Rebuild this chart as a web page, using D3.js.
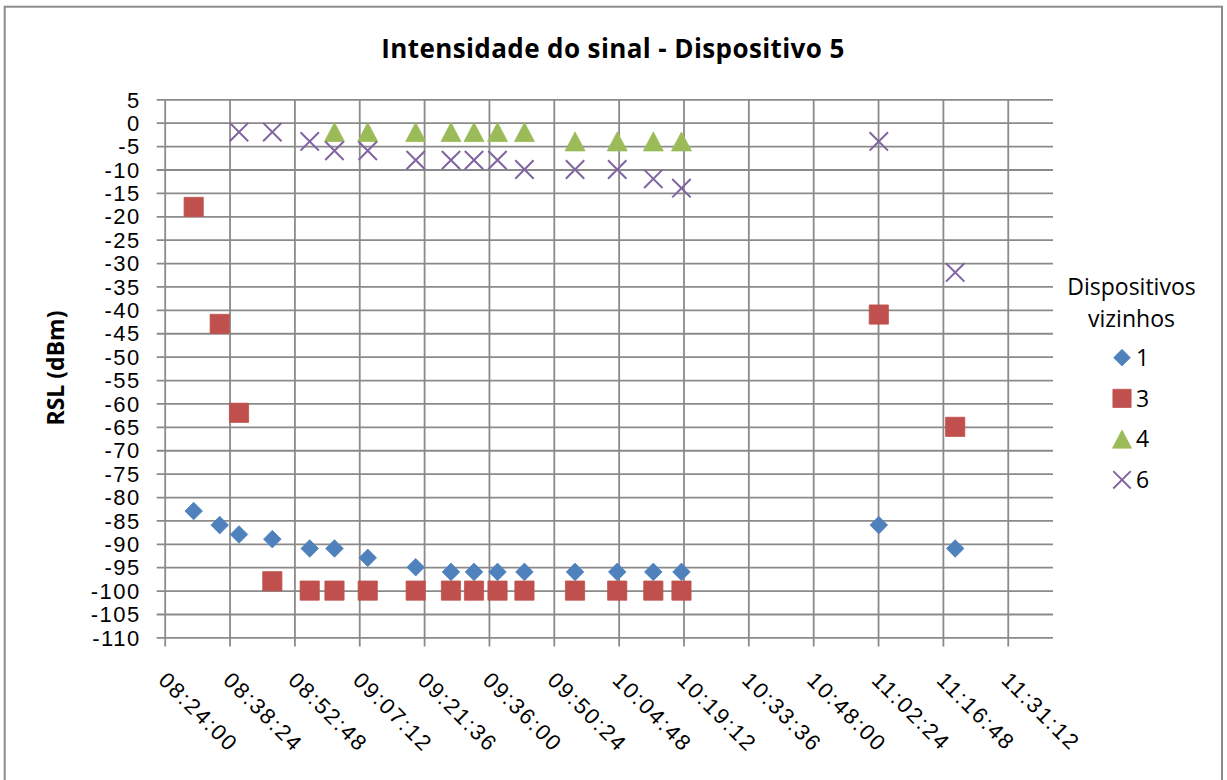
<!DOCTYPE html>
<html>
<head>
<meta charset="utf-8">
<script src="https://cdn.jsdelivr.net/npm/d3@7/dist/d3.min.js"></script>
<style>
  html, body { margin: 0; padding: 0; background: #fff; }
  svg { display: block; font-family: "Open Sans", "Noto Sans", sans-serif; }
</style>
</head>
<body>
<svg id="chart" width="1227" height="780"></svg>
<script>
// Measurement times (hh:mm:ss)
const times = [
  "08:30:26", "08:36:13", "08:40:30", "08:47:54", "08:56:12", "09:01:42",
  "09:09:05", "09:19:44", "09:27:34", "09:32:41", "09:37:54", "09:43:53",
  "09:55:07", "10:04:29", "10:12:30", "10:18:45", "11:02:34", "11:19:32"
];

// RSL (dBm) per neighbouring device; null = not detected at that time
const dev1 = [-83, -86, -88, -89, -91, -91, -93, -95, -96, -96, -96, -96, -96, -96, -96, -96, -86, -91];
const dev3 = [-18, -43, -62, -98, -100, -100, -100, -100, -100, -100, -100, -100, -100, -100, -100, -100, -41, -65];
const dev4 = [null, null, null, null, null, -2, -2, -2, -2, -2, -2, -2, -4, -4, -4, -4, null, null];
const dev6 = [null, null, -2, -2, -4, -6, -6, -8, -8, -8, -8, -10, -10, -10, -12, -14, -4, -32];

const seriesNames = ["1", "3", "4", "6"];
const seriesColors = ["#4F81BD", "#C0504D", "#9BBB59", "#8064A2"];
const seriesShapes = ["diamond", "square", "triangle", "cross"];

// Axis ticks
const xTickLabels = [
  "08:24:00", "08:38:24", "08:52:48", "09:07:12", "09:21:36", "09:36:00", "09:50:24",
  "10:04:48", "10:19:12", "10:33:36", "10:48:00", "11:02:24", "11:16:48", "11:31:12"
];
const xAxisEnd = "11:41:15";
const yTicks = [5, 0, -5, -10, -15, -20, -25, -30, -35, -40, -45, -50, -55, -60,
  -65, -70, -75, -80, -85, -90, -95, -100, -105, -110];

const titleText = "Intensidade do sinal - Dispositivo 5";
const yTitleText = "RSL (dBm)";
const legendTitle = ["Dispositivos", "vizinhos"];

const toSec = s => { const p = s.split(":").map(Number); return p[0] * 3600 + p[1] * 60 + p[2]; };

const svg = d3.select("#chart");
const plot = { left: 164.7, right: 1053, top: 99.3, bottom: 637.4 };
const gridColor = "#8a8a8a";

// Outer chart frame
svg.append("rect")
  .attr("x", 4.7).attr("y", 6.7)
  .attr("width", 1222 - 4.7).attr("height", 800)
  .attr("fill", "#fff").attr("stroke", "#8c8c8c").attr("stroke-width", 2);

const x = d3.scaleLinear()
  .domain([toSec(xTickLabels[0]), toSec(xAxisEnd)])
  .range([plot.left, plot.right]);
const y = d3.scaleLinear()
  .domain([-110, 5])
  .range([plot.bottom, plot.top]);

// Horizontal gridlines + y axis ticks/labels
const yAxis = d3.axisLeft(y)
  .tickValues(yTicks)
  .tickSize(-(plot.right - plot.left))
  .tickPadding(0)
  .tickFormat(d => String(d));
const gy = svg.append("g")
  .attr("transform", `translate(${plot.left},0)`)
  .call(yAxis);
gy.select(".domain").remove();
gy.selectAll(".tick line")
  .attr("x1", -8)
  .attr("stroke", gridColor).attr("stroke-width", 1.8);
gy.selectAll(".tick text")
  .attr("x", -24)
  .attr("dy", "0.35em")
  .attr("fill", "#000")
  .style("font-size", "22px")
  .style("letter-spacing", "1.5px");

// Vertical gridlines + x axis ticks/labels
const xAxis = d3.axisBottom(x)
  .tickValues(xTickLabels.map(toSec))
  .tickSize(0)
  .tickFormat((d, i) => xTickLabels[i]);
const gx = svg.append("g")
  .attr("transform", `translate(0,${plot.bottom})`)
  .call(xAxis);
gx.select(".domain").remove();
gx.selectAll(".tick line")
  .attr("y1", -(plot.bottom - plot.top))
  .attr("y2", 9)
  .attr("stroke", gridColor).attr("stroke-width", 1.8);
gx.selectAll(".tick text")
  .attr("x", 0).attr("y", 0).attr("dy", 0)
  .attr("text-anchor", "start")
  .attr("transform", "translate(-8,44) rotate(45)")
  .attr("fill", "#000")
  .style("font-size", "22px")
  .style("letter-spacing", "2px");

// Marker shapes
function markerPath(shape) {
  switch (shape) {
    case "diamond": { const r = 8.8; return `M0,${-r}L${r},0L0,${r}L${-r},0Z`; }
    case "square": { const r = 9.6; return `M${-r},${-r}H${r}V${r}H${-r}Z`; }
    case "triangle": return "M0,-9.5L10,9.5L-10,9.5Z";
    case "cross": { const r = 9.2; return `M${-r},${-r}L${r},${r}M${r},${-r}L${-r},${r}`; }
  }
}
function drawMarker(sel, shape, color) {
  sel.append("path")
    .attr("d", markerPath(shape))
    .attr("fill", shape === "cross" ? "none" : color)
    .attr("stroke", color)
    .attr("stroke-width", shape === "cross" ? 2 : 0.8);
}

const allSeries = [dev1, dev3, dev4, dev6];
allSeries.forEach((vals, si) => {
  const pts = times.map((t, i) => ({ t: toSec(t), v: vals[i] })).filter(d => d.v !== null);
  const g = svg.append("g").attr("class", "series-" + seriesNames[si]);
  g.selectAll("g.pt").data(pts).join("g")
    .attr("class", "pt")
    .attr("transform", d => `translate(${x(d.t)},${y(d.v)})`)
    .each(function () { drawMarker(d3.select(this), seriesShapes[si], seriesColors[si]); });
});

// Title
svg.append("text")
  .attr("x", 613).attr("y", 58.3)
  .attr("text-anchor", "middle")
  .style("font-size", "26px").style("font-weight", "bold")
  .style("letter-spacing", "0.4px")
  .text(titleText);

// Y axis title
svg.append("text")
  .attr("transform", "translate(56,368) rotate(-90)")
  .attr("text-anchor", "middle")
  .attr("dy", "0.35em")
  .style("font-size", "23px").style("font-weight", "bold")
  .text(yTitleText);

// Legend
const lg = svg.append("g");
lg.selectAll("text.lt").data(legendTitle).join("text")
  .attr("class", "lt")
  .attr("x", 1131.5).attr("y", (d, i) => 295 + i * 32)
  .attr("text-anchor", "middle")
  .style("font-size", "23px")
  .text(d => d);
const rows = lg.selectAll("g.item").data(seriesNames).join("g")
  .attr("class", "item")
  .attr("transform", (d, i) => `translate(1122,${357.7 + i * 40.7})`);
rows.each(function (d, i) {
  const r = d3.select(this);
  const m = r.append("g").attr("transform", "scale(0.95)");
  drawMarker(m, seriesShapes[i], seriesColors[i]);
  r.append("text")
    .attr("x", 14).attr("dy", "0.36em")
    .style("font-size", "23px")
    .text(d);
});
</script>
</body>
</html>
